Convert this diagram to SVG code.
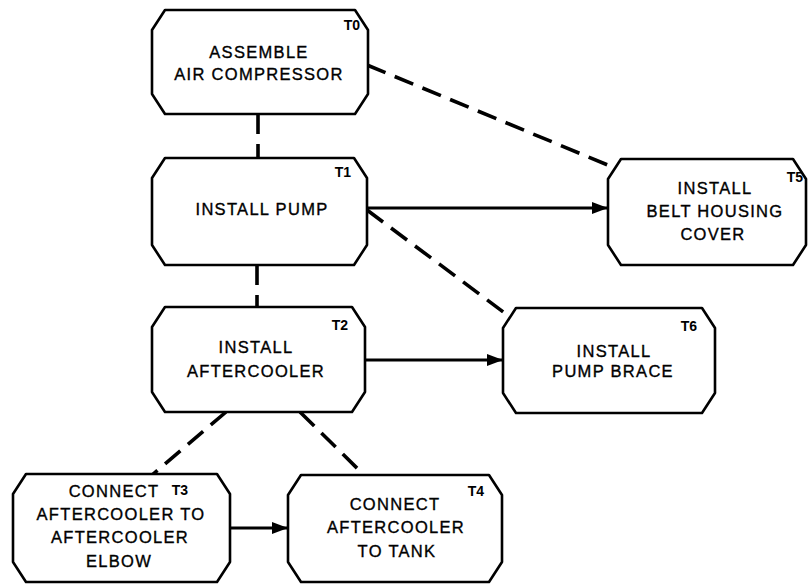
<svg xmlns="http://www.w3.org/2000/svg" width="809" height="584" viewBox="0 0 809 584">
<style>
.box{fill:#fff;stroke:#000;stroke-width:2.6;stroke-linejoin:round}
.t{font-family:"Liberation Sans",Arial,sans-serif;font-size:16.5px;letter-spacing:1.3px;text-anchor:middle;fill:#000;stroke:#000;stroke-width:0.35}
.id{font-family:"Liberation Sans",Arial,sans-serif;font-size:14px;font-weight:bold;text-anchor:end;fill:#000}
.dash{stroke:#000;stroke-width:3.6;stroke-dasharray:20 10;fill:none}
.solid{stroke:#000;stroke-width:3.2;fill:none}
</style>
<defs>
<marker id="ah" markerWidth="16" markerHeight="12" refX="15" refY="6" orient="auto" markerUnits="userSpaceOnUse">
<path d="M0,0 L16,6 L0,12 Z" fill="#000"/>
</marker>
</defs>
<rect width="809" height="584" fill="#fff"/>
<g id="connectors">
<line class="dash" x1="258" y1="114" x2="258" y2="158"/>
<line class="dash" x1="257" y1="265" x2="257" y2="307"/>
<line class="dash" x1="367" y1="65" x2="615" y2="168"/>
<line class="dash" x1="367" y1="210" x2="510" y2="317"/>
<line class="dash" x1="226" y1="412" x2="152" y2="475"/>
<line class="dash" x1="300" y1="412" x2="364" y2="475"/>
<line class="solid" x1="367" y1="208" x2="607" y2="208" marker-end="url(#ah)"/>
<line class="solid" x1="365" y1="360" x2="502" y2="360" marker-end="url(#ah)"/>
<line class="solid" x1="230" y1="528" x2="287" y2="528" marker-end="url(#ah)"/>
</g>
<g id="T0">
<path class="box" d="M165,10 H355 L368,30 V94 L355,114 H165 L152,94 V30 Z"/>
<text class="id" x="360" y="30">T0</text>
<text class="t" x="259" y="58">ASSEMBLE</text>
<text class="t" x="259" y="80">AIR COMPRESSOR</text>
</g>
<g id="T1">
<path class="box" d="M165,158 H354 L367,178 V245 L354,265 H165 L152,245 V178 Z"/>
<text class="id" x="351" y="177">T1</text>
<text class="t" x="262" y="215">INSTALL PUMP</text>
</g>
<g id="T2">
<path class="box" d="M165,307 H352 L365,327 V392 L352,412 H165 L152,392 V327 Z"/>
<text class="id" x="348" y="330">T2</text>
<text class="t" x="256" y="353">INSTALL</text>
<text class="t" x="256" y="377">AFTERCOOLER</text>
</g>
<g id="T3">
<path class="box" d="M26,474 H217 L230,494 V562 L217,582 H26 L13,562 V494 Z"/>
<text class="id" x="188" y="495">T3</text>
<text class="t" x="114" y="497">CONNECT</text>
<text class="t" x="121" y="520">AFTERCOOLER TO</text>
<text class="t" x="120" y="543">AFTERCOOLER</text>
<text class="t" x="119" y="567">ELBOW</text>
</g>
<g id="T4">
<path class="box" d="M301,475 H489 L502,495 V562 L489,582 H301 L288,562 V495 Z"/>
<text class="id" x="484" y="496">T4</text>
<text class="t" x="395" y="510">CONNECT</text>
<text class="t" x="396" y="533">AFTERCOOLER</text>
<text class="t" x="397" y="557">TO TANK</text>
</g>
<g id="T5">
<path class="box" d="M621,159 H793 L806,179 V245 L793,265 H621 L608,245 V179 Z"/>
<text class="id" x="803" y="182">T5</text>
<text class="t" x="715" y="194">INSTALL</text>
<text class="t" x="715" y="217">BELT HOUSING</text>
<text class="t" x="713" y="240">COVER</text>
</g>
<g id="T6">
<path class="box" d="M516,308 H702 L715,328 V393 L702,413 H516 L503,393 V328 Z"/>
<text class="id" x="697" y="331">T6</text>
<text class="t" x="614" y="357">INSTALL</text>
<text class="t" x="613" y="377">PUMP BRACE</text>
</g>
</svg>
